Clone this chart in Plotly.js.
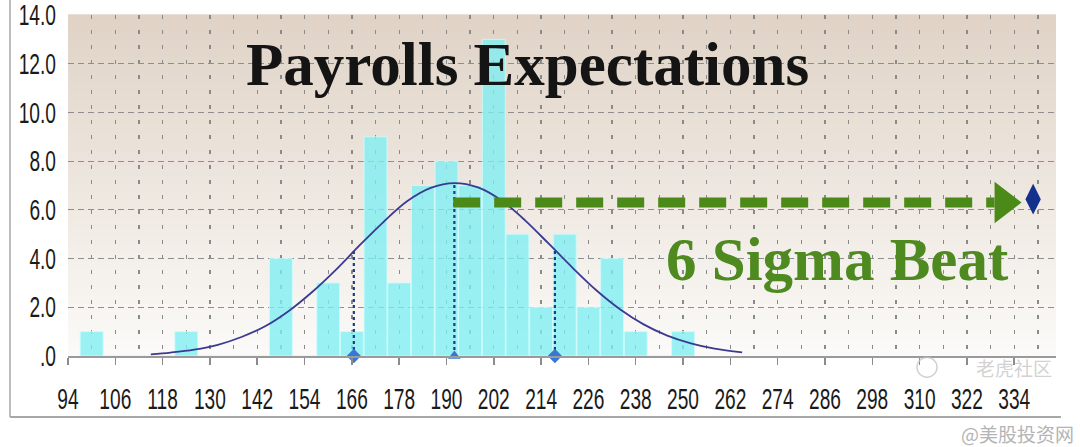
<!DOCTYPE html>
<html>
<head>
<meta charset="utf-8">
<script src="https://cdn.plot.ly/plotly-3.0.1.min.js"></script>
<style>html,body{margin:0;padding:0;background:#fff;}#chart{width:1080px;height:447px;}</style>
</head>
<body>
<div id="chart"></div>
<script>
// ---- data ----
const binCenters = [100,106,112,118,124,130,136,142,148,154,160,166,172,178,184,190,196,202,208,214,220,226,232,238,244,250];
const binCounts  = [1,0,0,0,1,0,0,0,4,0,3,1,9,3,7,8,7,13,5,2,5,2,4,1,0,1];

const curveX = [115,120,126,132,138,144,150,156,162,168,174,180,186,192,198,204,210,216,222,228,234,240,246,252,258,265];
const curveY = [0.07,0.14,0.26,0.46,0.78,1.22,1.85,2.64,3.55,4.55,5.5,6.35,6.9,7.1,6.92,6.38,5.56,4.6,3.62,2.7,1.92,1.3,0.84,0.52,0.3,0.15];

const sigmaMarkX = [166.5, 192, 217.5];
const sigmaMarkTop = [4.4, 7.1, 4.4];
const sigmaSymbols = ['diamond','triangle-up','diamond'];

const arrowX = [191.7, 329];
const arrowY = 6.3;
const arrowHeadX = 331.3;
const actualX = 338.8;
const actualY = 6.44;

const xTickVals = [94,106,118,130,142,154,166,178,190,202,214,226,238,250,262,274,286,298,310,322,334];
const yTickVals = [0,2,4,6,8,10,12,14];
const yTickText = ['.0','2.0','4.0','6.0','8.0','10.0','12.0','14.0'];

const titleText = 'Payrolls Expectations';
const beatText = '6 Sigma Beat';

// ---- traces ----
const traces = [];
traces.push({
  type:'bar', x:binCenters, y:binCounts, width:5.8,
  marker:{color:'rgba(125,238,242,0.78)', line:{color:'rgba(205,252,252,0.8)', width:1}},
  hoverinfo:'skip'
});
sigmaMarkX.forEach((sx,i)=>{
  traces.push({type:'scatter', mode:'lines', x:[sx,sx], y:[0,sigmaMarkTop[i]],
    line:{color:'#1c3b8c', width:2.2, dash:'3px,3px'}, hoverinfo:'skip'});
});
traces.push({
  type:'scatter', mode:'lines', x:curveX, y:curveY,
  line:{color:'#3a3a92', width:1.8, shape:'spline', smoothing:1.0}, hoverinfo:'skip'
});
traces.push({
  type:'scatter', mode:'markers', x:sigmaMarkX, y:sigmaMarkX.map(()=>0),
  marker:{color:'#3877d4', size:11, symbol:sigmaSymbols}, cliponaxis:false, hoverinfo:'skip'
});
traces.push({
  type:'scatter', mode:'lines', x:arrowX, y:[arrowY,arrowY],
  line:{color:'#4b8a18', width:10, dash:'27px,14px'}, hoverinfo:'skip'
});
traces.push({
  type:'scatter', mode:'markers', x:[arrowHeadX], y:[arrowY],
  marker:{color:'#4b8a18', size:36, symbol:'triangle-right'}, hoverinfo:'skip'
});
traces.push({
  type:'scatter', mode:'markers', x:[actualX], y:[actualY],
  marker:{color:'#13308c', size:22, symbol:'diamond-tall'}, cliponaxis:false, hoverinfo:'skip'
});

// ---- background gradient bands (style only) ----
const shapes = [];
const N = 40;
const gradTop = [224,211,198], gradBot = [251,250,248];
for (let i=0;i<N;i++){
  const t = i/(N-1);
  const c = gradTop.map((v,k)=>Math.round(v+(gradBot[k]-v)*t));
  shapes.push({type:'rect', xref:'paper', yref:'paper', x0:0, x1:1,
    y0:1-(i+1)/N, y1:1-i/N + 0.002, fillcolor:`rgb(${c[0]},${c[1]},${c[2]})`,
    line:{width:0}, layer:'below'});
}
// outer frame
shapes.push({type:'line', xref:'paper', yref:'paper', x0:-0.0587, x1:-0.0587, y0:1.05, y1:-0.179, line:{color:'#bdbdbd', width:2}});
shapes.push({type:'line', xref:'paper', yref:'paper', x0:-0.0587, x1:1.005, y0:-0.179, y1:-0.179, line:{color:'#a8a8a8', width:2}});
// watermark logo circle
shapes.push({type:'circle', xref:'paper', yref:'paper', x0:0.8593, x1:0.8796, y0:-0.062, y1:-0.004, line:{color:'rgba(190,190,190,0.7)', width:1.5}});

const annotations = [
  {text:titleText, xref:'x', yref:'y', x:210.5, y:11.95, showarrow:false, xanchor:'center', yanchor:'middle',
   font:{family:'Liberation Serif, Times New Roman, serif', size:61, color:'#141414', weight:700}},
  {text:beatText, xref:'x', yref:'y', x:289.2, y:3.97, showarrow:false, xanchor:'center', yanchor:'middle',
   font:{family:'Liberation Serif, Times New Roman, serif', size:61, color:'#4e8a1f', weight:700}},
  {text:'老虎社区', xref:'paper', yref:'paper', x:0.998, y:-0.033, xanchor:'right', yanchor:'middle', showarrow:false,
   font:{family:'Noto Sans CJK SC', size:19, color:'rgba(195,195,195,0.75)'}},
  {text:'@美股投资网', xref:'paper', yref:'paper', x:1.02, y:-0.228, xanchor:'right', yanchor:'middle', showarrow:false,
   font:{family:'Noto Sans CJK SC', size:19, color:'#b4b4b4'}}
];

const tickFont = {family:'Liberation Sans, Arial, sans-serif', size:29, color:'#1a1a1a'};

const layout = {
  width:1080, height:447,
  margin:{l:68, r:24, t:15, b:91, pad:0},
  paper_bgcolor:'#ffffff', plot_bgcolor:'rgba(0,0,0,0)',
  showlegend:false, bargap:0.03,
  xaxis:{range:[94,344.6], tickvals:xTickVals, ticktext:xTickVals.map(String), tickangle:0,
    ticks:'outside', ticklen:7, tickcolor:'#8c8c8c', tickwidth:1.5,
    ticklabelstandoff:9, ticklabeloverflow:'allow', tickfont:tickFont,
    showgrid:true, gridcolor:'#8a8a8a', gridwidth:1.3, griddash:'4px,11px',
    minor:{dtick:6, tick0:94, showgrid:true, gridcolor:'#8a8a8a', gridwidth:1.3, griddash:'4px,11px', ticks:''},
    showline:true, linecolor:'#9a9a9a', linewidth:2, zeroline:false, fixedrange:true},
  yaxis:{range:[0,14], tickvals:yTickVals, ticktext:yTickText, ticks:'', ticklabelstandoff:11,
    ticklabeloverflow:'allow', tickfont:tickFont, showgrid:true, gridcolor:'#8e8e8e', gridwidth:1.2, griddash:'6px,4px',
    zeroline:false, showline:false, fixedrange:true},
  shapes:shapes, annotations:annotations
};

Plotly.newPlot('chart', traces, layout, {displayModeBar:false, staticPlot:true}).then(gd => {
  // condense tick labels horizontally (the reference uses a tall, narrow face)
  gd.querySelectorAll('.xtick text, .ytick text').forEach(t => {
    const w = t.getComputedTextLength();
    t.setAttribute('textLength', (w * 0.66).toFixed(1));
    t.setAttribute('lengthAdjust', 'spacingAndGlyphs');
  });
});
</script>
</body>
</html>
